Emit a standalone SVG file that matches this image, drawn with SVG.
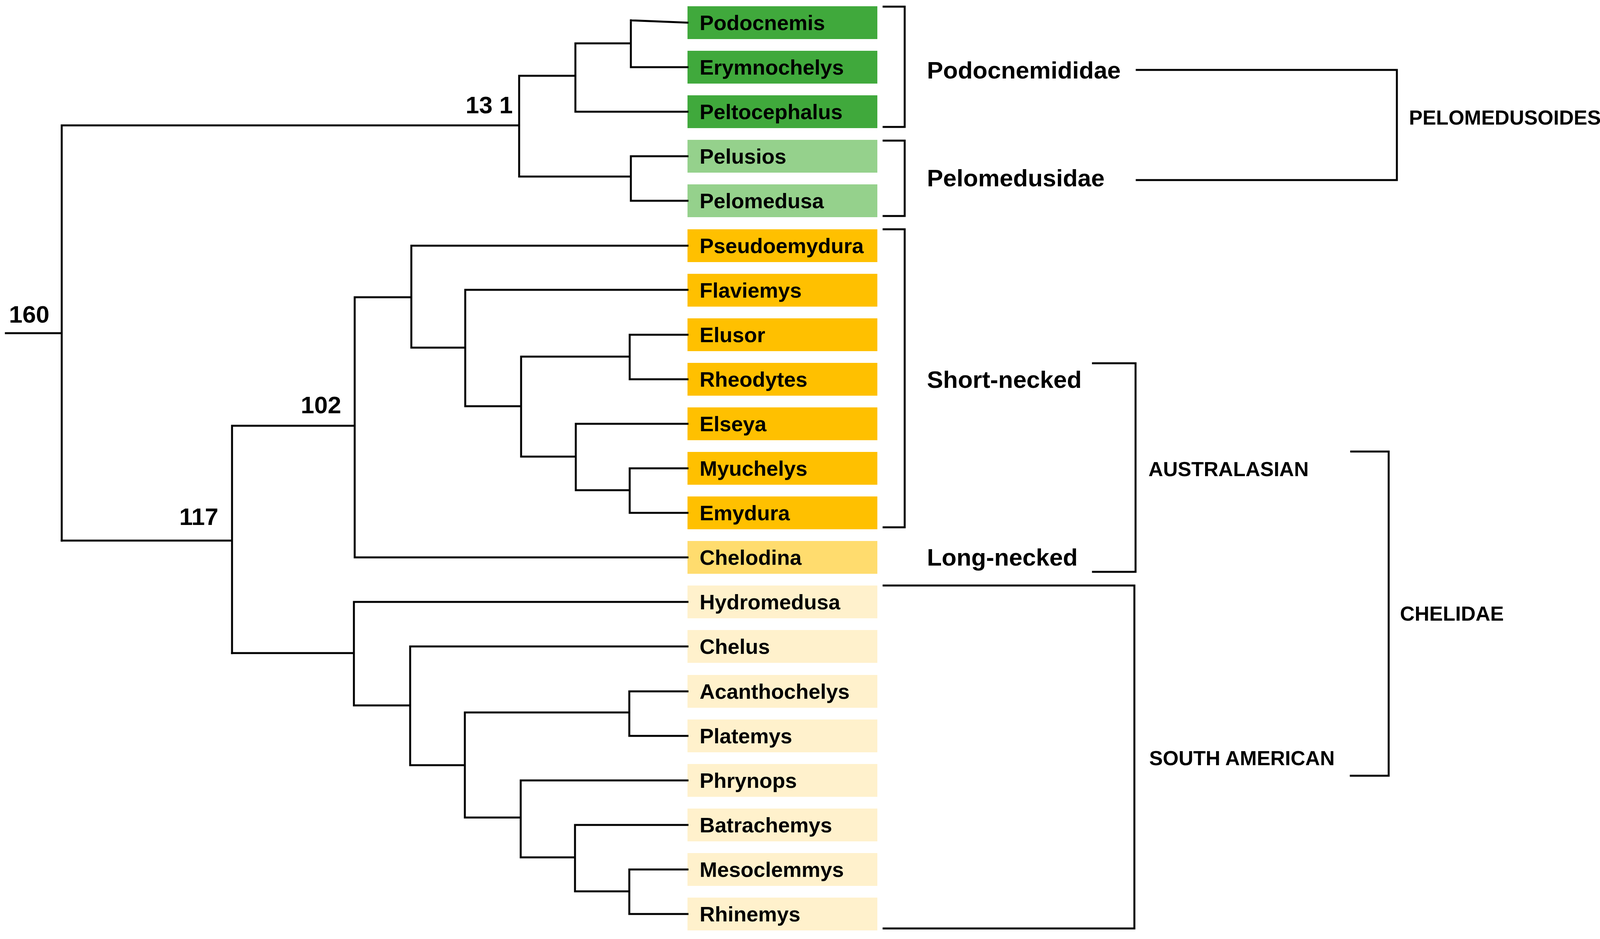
<svg xmlns="http://www.w3.org/2000/svg" width="4135" height="2404" viewBox="0 0 4135 2404">
<style>
.t{font-family:"Liberation Sans",Arial,sans-serif;font-weight:bold;font-size:54px;fill:#000}
.g{font-family:"Liberation Sans",Arial,sans-serif;font-weight:bold;font-size:62px;fill:#000}
.c{font-family:"Liberation Sans",Arial,sans-serif;font-weight:bold;font-size:52px;fill:#000}
.n{font-family:"Liberation Sans",Arial,sans-serif;font-weight:bold;font-size:62px;fill:#000}
.l{fill:none;stroke:#000;stroke-width:5;stroke-linecap:square;stroke-linejoin:miter}
.dg{fill:#40a93c}.lg{fill:#95d18c}.or{fill:#ffc000}.ch{fill:#ffdc6e}.pl{fill:#fff1cc}
</style>
<g id="taxa">
<g id="Podocnemis"><rect class="dg" x="1760" y="16" width="486" height="84"/><text class="t" x="1791" y="77">Podocnemis</text></g>
<g id="Erymnochelys"><rect class="dg" x="1760" y="130" width="486" height="84"/><text class="t" x="1791" y="191">Erymnochelys</text></g>
<g id="Peltocephalus"><rect class="dg" x="1760" y="244" width="486" height="84"/><text class="t" x="1791" y="305">Peltocephalus</text></g>
<g id="Pelusios"><rect class="lg" x="1760" y="358" width="486" height="84"/><text class="t" x="1791" y="419">Pelusios</text></g>
<g id="Pelomedusa"><rect class="lg" x="1760" y="472" width="486" height="84"/><text class="t" x="1791" y="533">Pelomedusa</text></g>
<g id="Pseudoemydura"><rect class="or" x="1760" y="587" width="486" height="84"/><text class="t" x="1791" y="648">Pseudoemydura</text></g>
<g id="Flaviemys"><rect class="or" x="1760" y="701" width="486" height="84"/><text class="t" x="1791" y="762">Flaviemys</text></g>
<g id="Elusor"><rect class="or" x="1760" y="815" width="486" height="84"/><text class="t" x="1791" y="876">Elusor</text></g>
<g id="Rheodytes"><rect class="or" x="1760" y="929" width="486" height="84"/><text class="t" x="1791" y="990">Rheodytes</text></g>
<g id="Elseya"><rect class="or" x="1760" y="1043" width="486" height="84"/><text class="t" x="1791" y="1104">Elseya</text></g>
<g id="Myuchelys"><rect class="or" x="1760" y="1157" width="486" height="84"/><text class="t" x="1791" y="1218">Myuchelys</text></g>
<g id="Emydura"><rect class="or" x="1760" y="1271" width="486" height="84"/><text class="t" x="1791" y="1332">Emydura</text></g>
<g id="Chelodina"><rect class="ch" x="1760" y="1385" width="486" height="84"/><text class="t" x="1791" y="1446">Chelodina</text></g>
<g id="Hydromedusa"><rect class="pl" x="1760" y="1499" width="486" height="84"/><text class="t" x="1791" y="1560">Hydromedusa</text></g>
<g id="Chelus"><rect class="pl" x="1760" y="1613" width="486" height="84"/><text class="t" x="1791" y="1674">Chelus</text></g>
<g id="Acanthochelys"><rect class="pl" x="1760" y="1728" width="486" height="84"/><text class="t" x="1791" y="1789">Acanthochelys</text></g>
<g id="Platemys"><rect class="pl" x="1760" y="1842" width="486" height="84"/><text class="t" x="1791" y="1903">Platemys</text></g>
<g id="Phrynops"><rect class="pl" x="1760" y="1956" width="486" height="84"/><text class="t" x="1791" y="2017">Phrynops</text></g>
<g id="Batrachemys"><rect class="pl" x="1760" y="2070" width="486" height="84"/><text class="t" x="1791" y="2131">Batrachemys</text></g>
<g id="Mesoclemmys"><rect class="pl" x="1760" y="2184" width="486" height="84"/><text class="t" x="1791" y="2245">Mesoclemmys</text></g>
<g id="Rhinemys"><rect class="pl" x="1760" y="2298" width="486" height="84"/><text class="t" x="1791" y="2359">Rhinemys</text></g>
</g>
<g id="connectors">
<path class="l" d="M15 853H158M158 321V1384M158 321H1329M1329 194V452M1329 194H1473M1473 111V286M1473 111H1615M1615 52V172M1615 52L1760 58M1615 172H1760M1473 286H1760M1329 452H1615M1615 400V514M1615 400H1760M1615 514H1760"/>
<path class="l" d="M158 1384H594M594 1090V1672M594 1090H908M908 761V1427M908 1427H1760M908 761H1053M1053 629V890M1053 629H1760M1053 890H1191M1191 742V1040M1191 742H1760M1191 1040H1334M1334 913V1169M1334 913H1612M1612 857V971M1612 857H1760M1612 971H1760M1334 1169H1474M1474 1085V1255M1474 1085H1760M1474 1255H1612M1612 1199V1313M1612 1199H1760M1612 1313H1760"/>
<path class="l" d="M594 1672H906M906 1541V1806M906 1541H1760M906 1806H1050M1050 1655V1959M1050 1655H1760M1050 1959H1190M1190 1824V2093M1190 1824H1611M1611 1770V1884M1611 1770H1760M1611 1884H1760M1190 2093H1333M1333 1998V2195M1333 1998H1760M1333 2195H1472M1472 2112V2282M1472 2112H1760M1472 2282H1611M1611 2226V2340M1611 2226H1760M1611 2340H1760"/>
<path class="l" d="M2262 17H2316V325H2262M2262 360H2316V553H2262M2262 587H2316V1350H2262"/>
<path class="l" d="M2910 179H3576V461H2910M2798 930H2907V1464H2798M3459 1156H3555V1986H3458M2262 1499H2904V2377H2262"/>
</g>
<g id="labels">
<text class="n" x="23" y="826">160</text>
<text class="n" x="1192" y="290">13 1</text>
<text class="n" x="770" y="1058">102</text>
<text class="n" x="459" y="1344">117</text>
<text class="g" x="2373" y="201">Podocnemididae</text>
<text class="g" x="2373" y="477">Pelomedusidae</text>
<text class="g" x="2373" y="993">Short-necked</text>
<text class="g" x="2373" y="1448">Long-necked</text>
<text class="c" x="3607" y="319">PELOMEDUSOIDES</text>
<text class="c" x="2940" y="1219">AUSTRALASIAN</text>
<text class="c" x="3584" y="1589">CHELIDAE</text>
<text class="c" x="2942" y="1959">SOUTH AMERICAN</text>
</g>
</svg>
